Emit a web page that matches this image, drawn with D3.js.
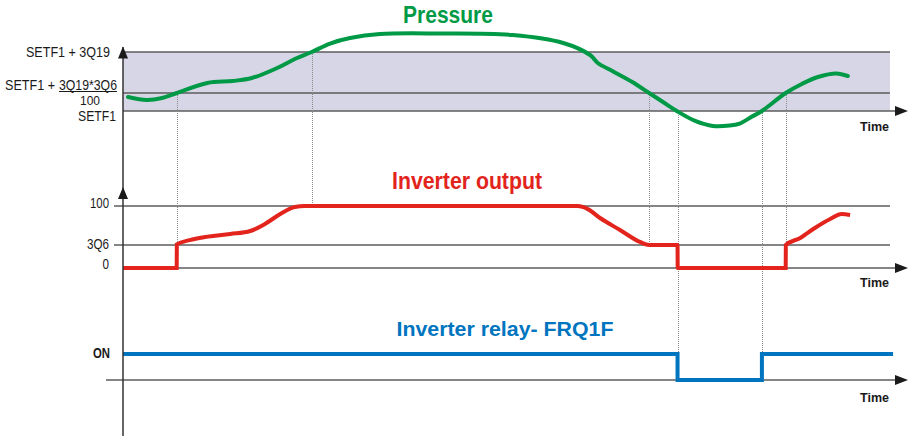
<!DOCTYPE html>
<html>
<head>
<meta charset="utf-8">
<script src="https://cdn.jsdelivr.net/npm/d3@7"></script>
<style>
  html, body { margin: 0; padding: 0; background: #fff; }
  svg { display: block; font-family: "Liberation Sans", Arial, sans-serif; }
</style>
</head>
<body>
<svg id="chart" width="909" height="436"></svg>
<script>
// Time runs 0..100 across all three panels
const timeDomain = [0, 100];

// Pressure, in % of 3Q19 above SETF1
const pressureLevels = [0, 30.5, 100];
const pressureT = [0.65, 3.1, 5.1, 7.0, 11.0, 14.3, 16.8, 20.1, 22.4, 24.6, 27.0, 29.6, 33.5, 41.3, 50.8, 57.4, 60.9, 61.9, 63.8, 66.4, 68.6, 70.4, 72.2, 74.6, 76.9, 79.1, 80.4, 81.9, 83.3, 86.4, 88.5, 90.6, 93.0, 94.5];
const pressureP = [23.7, 18.6, 22.0, 30.5, 47.5, 50.8, 55.9, 72.9, 88.1, 100, 114.4, 123.7, 130.5, 131.4, 128.8, 115.3, 94.9, 81.4, 67.8, 49.2, 30.5, 15.3, 0, -16.9, -25.4, -24.6, -21.2, -10.2, 0, 30.5, 45.8, 57.6, 63.6, 59.3];

// Inverter output, % (3Q6 = minimum speed)
const inverterLevels = [0, 37.1, 100];
const inverterLabels = ["0", "3Q6", "100"];
const inverterT = [0, 7.0, 7.02, 8.7, 10.7, 14.0, 16.6, 18.5, 20.5, 22.4, 23.7, 24.6, 59.3, 60.6, 62.2, 64.8, 67.4, 68.6, 72.3, 72.32, 86.4, 86.42, 88.3, 90.2, 92.2, 93.7, 94.8];
const inverterV = [0, 0, 38, 45, 50, 54.8, 59.7, 71, 87, 98.4, 100, 100, 100, 95, 80.6, 61.3, 42, 37.1, 37.1, 0, 0, 37.1, 48.4, 64.5, 79, 87, 85.5];

// Inverter relay FRQ1F state (1 = ON)
const relayT = [0, 72.3, 83.3, 100.4];
const relayState = [1, 0, 1, 1];

// Guide lines: time, pressure level crossed, and where the guide ends
const guideT = [7.0, 24.6, 68.6, 72.3, 83.3, 86.4];
const guideFromP = [30.5, 100, 30.5, 0, 0, 30.5];
const guideToPanel = ["inv", "inv", "inv", "relay", "relay", "inv"];
const guideToValue = [37.1, 100, 37.1, 0, 0, 37.1];

const GREEN = "#009a46", RED = "#e2241c", BLUE = "#0075bf";

const svg = d3.select("#chart");

const x = d3.scaleLinear().domain(timeDomain).range([123, 890]);
const yP = d3.scaleLinear().domain([0, 100]).range([111, 52]);
const yI = d3.scaleLinear().domain([0, 100]).range([268, 206]);
const yR = d3.scaleLinear().domain([0, 1]).range([380, 354]);

const axisX = x(0), axisEnd = x(100) + 18;

function label(g, px, py, str, o) {
  const t = g.append("text")
    .attr("x", px).attr("y", py)
    .attr("text-anchor", o.anchor || "end")
    .attr("font-size", o.size)
    .attr("font-weight", o.weight || "normal")
    .attr("fill", o.fill || "#1a1a1a")
    .text(str);
  if (o.width) t.attr("textLength", o.width).attr("lengthAdjust", "spacingAndGlyphs");
  return t;
}

// Pressure band
svg.append("rect")
  .attr("x", x(0)).attr("y", yP(100))
  .attr("width", x(100) - x(0)).attr("height", yP(0) - yP(100))
  .attr("fill", "#d6d6e6");

const grid = svg.append("g").attr("stroke", "#5c5c5c").attr("stroke-width", 1.6);
// pressure reference lines
grid.selectAll("line.p").data(pressureLevels.slice(1)).join("line")
  .attr("x1", axisX).attr("x2", x(100))
  .attr("y1", d => yP(d)).attr("y2", d => yP(d));
// inverter reference lines
grid.selectAll("line.i").data(inverterLevels.slice(1)).join("line")
  .attr("x1", axisX - 9).attr("x2", x(100))
  .attr("y1", d => yI(d)).attr("y2", d => yI(d));
// time axes
const timeAxes = [yP(0), yI(0), yR(0)];
grid.selectAll("line.t").data(timeAxes).join("line")
  .attr("x1", (d, i) => i === 2 ? axisX - 17 : axisX).attr("x2", axisEnd - 6)
  .attr("y1", d => d).attr("y2", d => d);

// Dotted guide lines
const guides = svg.append("g").attr("stroke", "#8a8a8a").attr("stroke-width", 1).attr("stroke-dasharray", "1,1");
guideT.forEach((t, i) => {
  const yEnd = guideToPanel[i] === "inv" ? yI(guideToValue[i]) : yR(guideToValue[i]);
  guides.append("line")
    .attr("x1", Math.round(x(t)) + 0.5).attr("x2", Math.round(x(t)) + 0.5)
    .attr("y1", yP(guideFromP[i])).attr("y2", yEnd);
});

// Curves
const pressureLine = d3.line().x(d => x(d[0])).y(d => yP(d[1])).curve(d3.curveCatmullRom.alpha(0.5));
svg.append("path")
  .attr("d", pressureLine(d3.zip(pressureT, pressureP)))
  .attr("fill", "none").attr("stroke", GREEN).attr("stroke-width", 4).attr("stroke-linecap", "round");

const inverterLine = d3.line().x(d => x(d[0])).y(d => yI(d[1])).curve(d3.curveMonotoneX);
svg.append("path")
  .attr("d", inverterLine(d3.zip(inverterT, inverterV)))
  .attr("fill", "none").attr("stroke", RED).attr("stroke-width", 4);

const relayLine = d3.line().x(d => x(d[0])).y(d => yR(d[1])).curve(d3.curveStepAfter);
svg.append("path")
  .attr("d", relayLine(d3.zip(relayT, relayState)))
  .attr("fill", "none").attr("stroke", BLUE).attr("stroke-width", 4);

// Vertical axis with arrowheads
svg.append("line")
  .attr("x1", axisX).attr("x2", axisX).attr("y1", yP(100) - 5).attr("y2", 436)
  .attr("stroke", "#333").attr("stroke-width", 1.5);
const arrowUp = tip => `M${axisX},${tip} L${axisX - 5},${tip + 12} L${axisX + 5},${tip + 12} Z`;
svg.append("path").attr("d", arrowUp(yP(100) - 5.5)).attr("fill", "#1a1a1a");
svg.append("path").attr("d", arrowUp(yI(100) - 19)).attr("fill", "#1a1a1a");
timeAxes.forEach(yy => {
  svg.append("path")
    .attr("d", `M${axisEnd},${yy} L${axisEnd - 13},${yy - 5} L${axisEnd - 13},${yy + 5} Z`)
    .attr("fill", "#1a1a1a");
});

// Axis labels
const lab = svg.append("g");
label(lab, 110, yP(100) + 5.2, "SETF1 + 3Q19", { size: 15, width: 84 });
// SETF1 + 3Q19*3Q6 / 100, written as a fraction
label(lab, 55, yP(30.5) - 3.5, "SETF1 +", { size: 15, width: 50 });
label(lab, 59, yP(30.5) - 3.5, "3Q19*3Q6", { size: 15, width: 58, anchor: "start" });
lab.append("line").attr("x1", 59).attr("x2", 117)
  .attr("y1", yP(30.5) - 1.5).attr("y2", yP(30.5) - 1.5)
  .attr("stroke", "#1a1a1a").attr("stroke-width", 1);
label(lab, 90, yP(30.5) + 11.5, "100", { size: 12.5, width: 20, anchor: "middle" });
label(lab, 116, yP(0) + 9.5, "SETF1", { size: 15, width: 38 });

const invLabelWidth = [6.5, 22, 19];
const invLabelDy = [1.3, 4, 2];
inverterLevels.forEach((v, i) => {
  label(lab, 109, yI(v) + invLabelDy[i], inverterLabels[i], { size: 14.5, width: invLabelWidth[i] });
});
label(lab, 110, yR(1) + 4.3, "ON", { size: 14, width: 17, weight: "bold" });

timeAxes.forEach((yy, i) => {
  label(lab, 889, yy + [20, 19, 22][i], "Time", { size: 12, width: 29, weight: "bold" });
});

// Series titles
label(svg, 448, 23, "Pressure", { size: 24, width: 90, weight: "bold", fill: GREEN, anchor: "middle" });
label(svg, 467, 189, "Inverter output", { size: 24, width: 150, weight: "bold", fill: RED, anchor: "middle" });
label(svg, 505, 335.5, "Inverter relay- FRQ1F", { size: 20.5, width: 217, weight: "bold", fill: BLUE, anchor: "middle" });
</script>
</body>
</html>
